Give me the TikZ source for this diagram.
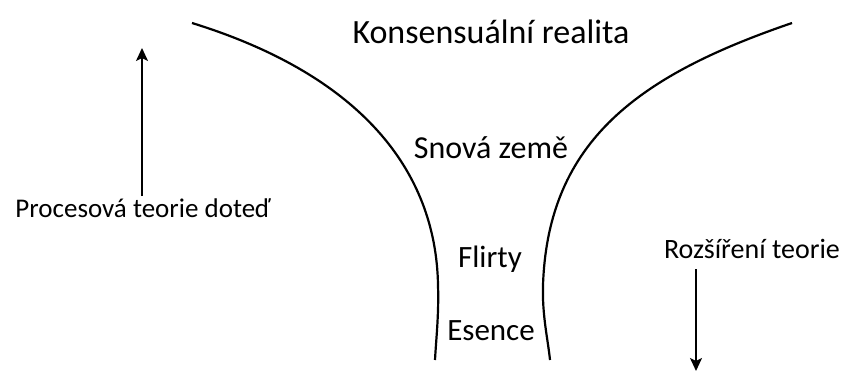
\documentclass[tikz,border=0pt]{standalone}
\usepackage{fontspec}
\setmainfont{Carlito}
\usetikzlibrary{arrows.meta}

\begin{document}
\begin{tikzpicture}[
    x=1pt, y=-1pt,
    wall/.style={draw=black, line width=2.2pt},
    lbl/.style={font=\fontsize{32}{36}\selectfont, text=black, inner sep=1pt, anchor=base},
    side/.style={font=\fontsize{27}{30}\selectfont, text=black, inner sep=1pt, anchor=base},
    dir/.style={draw=black, line width=1.7pt, -{Stealth[length=13pt, width=12pt, inset=3pt]}},
  ]
  \useasboundingbox (0,0) rectangle (842,379);

  % ---- the funnel
  \draw[wall] (192,23) .. controls (360,75) and (436,170) .. (438,285)
                       .. controls (439,315) and (436,340) .. (435,360);
  \draw[wall] (792,23) .. controls (640,75) and (548,140) .. (543,285)
                       .. controls (542,315) and (548,340) .. (550,360);

  % ---- levels
  \node[lbl, font=\fontsize{34}{38}\selectfont] (konsens) at (491,44) {Konsensuální realita};
  \node[lbl] (sny)     at (491,159) {Snová země};
  \node[lbl, font=\fontsize{31}{36}\selectfont] (flirty) at (490,267) {Flirty};
  \node[lbl, font=\fontsize{31}{36}\selectfont] (esence) at (491,340) {Esence};

  % ---- left: process theory so far
  \node[side] (dosud) at (143,218) {Procesová teorie doteď};
  \coordinate (nahore) at (142,48);
  \draw[dir] (dosud.north -| nahore) ++(0,-2) -- (nahore);

  % ---- right: extension
  \node[side, font=\fontsize{28}{32}\selectfont] (rozsir) at (752,258) {Rozšíření teorie};
  \coordinate (dole) at (696,371);
  \draw[dir] (rozsir.south -| dole) ++(0,10) -- (dole);
\end{tikzpicture}
\end{document}
